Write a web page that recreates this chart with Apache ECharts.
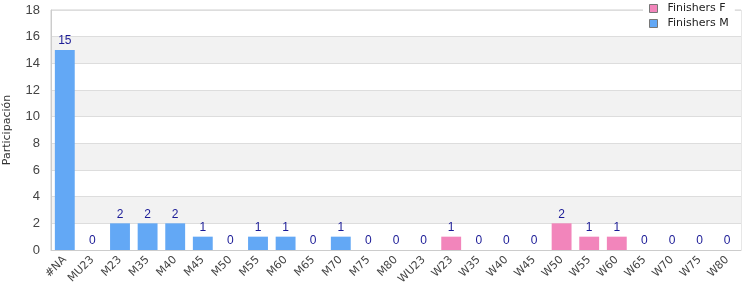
<!DOCTYPE html>
<html><head><meta charset="utf-8">
<script src="https://cdn.jsdelivr.net/npm/echarts@6/dist/echarts.min.js"></script>
<style>html,body{margin:0;padding:0;background:#fff}#c{width:750px;height:300px}</style>
</head><body><div id="c"></div>
<script>
const categories = ['#NA','MU23','M23','M35','M40','M45','M50','M55','M60','M65','M70','M75','M80','WU23','W23','W35','W40','W45','W50','W55','W60','W65','W70','W75','W80'];
const finishersM = [15,0,2,2,2,1,0,1,1,0,1,0,0,0,0,0,0,0,0,0,0,0,0,0,0];
const finishersF = [0,0,0,0,0,0,0,0,0,0,0,0,0,0,1,0,0,0,2,1,1,0,0,0,0];
const yTicks = {min:0, max:18, interval:2};

const arial = 'Liberation Sans, Arial, sans-serif';
const chart = echarts.init(document.getElementById('c'), null, {renderer:'canvas'});
chart.setOption({
  animation:false,
  textStyle:{fontFamily:'DejaVu Sans, Verdana, sans-serif'},
  grid:{left:51, right:9, top:10, bottom:50, containLabel:false, outerBoundsMode:'none',
    show:true, borderColor:'#d0d0d0', borderWidth:1, backgroundColor:'transparent'},
  legend:{
    orient:'vertical', left:643, top:1, padding:[2,6,2,6], itemGap:4,
    backgroundColor:'#fff', itemWidth:8, itemHeight:8, icon:'rect',
    textStyle:{fontSize:11, color:'#222', padding:[0,0,0,5]},
    data:[{name:'Finishers F', itemStyle:{borderColor:'#777', borderWidth:1}},{name:'Finishers M', itemStyle:{borderColor:'#777', borderWidth:1}}]
  },
  xAxis:{type:'category', data:categories,
    axisLine:{lineStyle:{color:'#ccc'}}, axisTick:{show:false},
    axisLabel:{rotate:45, fontSize:11, color:'#444', margin:8, interval:0}},
  yAxis:{type:'value', min:yTicks.min, max:yTicks.max, interval:yTicks.interval,
    name:'Participación', nameLocation:'middle', nameGap:38, nameTextStyle:{fontSize:11, color:'#333'},
    axisLine:{show:true, lineStyle:{color:'#ccc'}}, axisTick:{show:false},
    axisLabel:{fontSize:13, color:'#444', margin:11, fontFamily:arial},
    splitLine:{lineStyle:{color:'#ddd'}},
    splitArea:{show:true, areaStyle:{color:['#ffffff','#f2f2f2']}}},
  series:[
    {name:'Finishers M', type:'bar', stack:'t', data:finishersM, barWidth:'72%',
     itemStyle:{color:'#63a8f5'}},
    {name:'Finishers F', type:'bar', stack:'t', data:finishersF, barWidth:'72%',
     itemStyle:{color:'#f285bb'},
     label:{show:true, position:'top', distance:3, fontSize:12, color:'#1a1a96', fontFamily:arial,
       formatter:p=>String(finishersM[p.dataIndex]+finishersF[p.dataIndex])}}
  ]
});
</script></body></html>
